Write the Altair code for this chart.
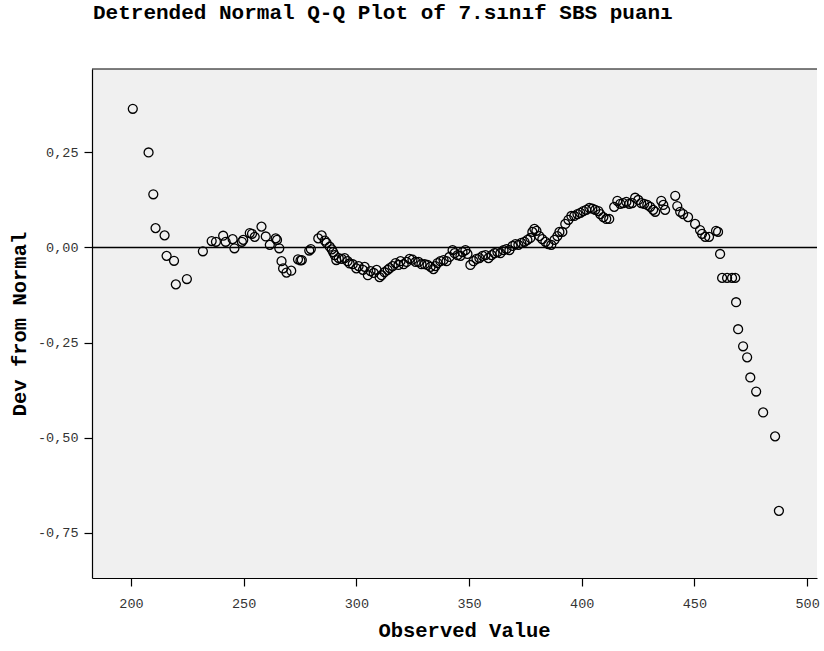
import altair as alt
import pandas as pd

observed = [
    200.8, 207.8, 209.9, 210.9, 214.9, 215.8, 219.1, 219.9, 224.8, 231.9,
    235.8, 237.7, 240.9, 242.0, 245.1, 245.9, 249.2, 249.8, 252.7, 253.7,
    254.9, 257.9, 259.8, 261.6, 264.2, 264.8, 265.8, 266.8, 267.5, 269.0,
    271.1, 274.1, 275.2, 275.8, 279.1, 279.8, 283.1, 284.6, 286.0, 286.8,
    288.2, 289.1, 289.7, 290.4, 291.1, 292.2, 293.5, 294.8, 296.1, 297.0,
    298.4, 300.0, 301.0, 302.9, 303.7, 305.1, 306.3, 307.7, 309.0, 310.3,
    311.2, 312.5, 313.9, 314.8, 316.1, 317.4, 318.7, 319.6, 321.0, 322.3,
    323.6, 324.9, 326.3, 327.6, 328.9, 330.3, 331.6, 332.9, 334.2, 335.1,
    336.0, 337.3, 338.7, 340.0, 341.3, 342.7, 343.6, 344.9, 346.2, 347.1,
    348.4, 349.3, 350.6, 352.0, 353.3, 354.6, 356.0, 357.3, 358.6, 360.0,
    361.3, 362.6, 363.9, 365.3, 366.6, 367.9, 369.3, 370.6, 371.9, 373.2,
    374.6, 375.9, 377.2, 378.1, 379.0, 379.9, 381.2, 382.5, 383.9, 385.2,
    386.5, 387.9, 389.2, 390.1, 391.4, 392.7, 394.1, 395.4, 396.7, 398.1,
    399.4, 400.7, 402.0, 403.4, 404.7, 406.0, 407.4, 408.2, 409.6, 410.9,
    412.2, 414.4, 415.8, 417.1, 418.4, 419.8, 421.1, 422.4, 423.7, 425.1,
    426.4, 427.7, 429.1, 430.4, 431.7, 432.6, 435.3, 436.2, 437.0, 441.5,
    442.4, 443.7, 445.0, 447.2, 450.3, 452.5, 453.4, 454.8, 456.5, 459.6,
    460.5, 461.4, 462.3, 464.5, 466.7, 468.1, 468.5, 469.4, 471.6, 473.4,
    474.8, 477.4, 480.5, 485.8, 487.5,
]

deviation = [
    0.365, 0.250, 0.140, 0.051, 0.032, -0.022, -0.035, -0.097, -0.083, -0.010,
    0.017, 0.015, 0.031, 0.015, 0.022, -0.002, 0.015, 0.020, 0.038, 0.036,
    0.028, 0.055, 0.029, 0.007, 0.024, 0.020, -0.002, -0.036, -0.055, -0.066,
    -0.061, -0.031, -0.034, -0.033, -0.008, -0.004, 0.024, 0.032, 0.018, 0.012,
    0.002, -0.005, -0.012, -0.020, -0.033, -0.028, -0.030, -0.028, -0.036, -0.042,
    -0.044, -0.055, -0.049, -0.059, -0.051, -0.073, -0.062, -0.067, -0.059, -0.078,
    -0.073, -0.065, -0.059, -0.054, -0.049, -0.041, -0.046, -0.036, -0.044, -0.038,
    -0.030, -0.032, -0.038, -0.038, -0.044, -0.044, -0.046, -0.051, -0.057, -0.049,
    -0.041, -0.036, -0.033, -0.036, -0.025, -0.007, -0.015, -0.020, -0.022, -0.012,
    -0.007, -0.017, -0.046, -0.036, -0.030, -0.028, -0.022, -0.020, -0.028, -0.020,
    -0.015, -0.012, -0.015, -0.007, -0.004, -0.007, 0.004, 0.009, 0.007, 0.012,
    0.015, 0.020, 0.025, 0.041, 0.049, 0.044, 0.030, 0.022, 0.015, 0.009,
    0.007, 0.020, 0.030, 0.041, 0.041, 0.062, 0.073, 0.083, 0.083, 0.088,
    0.091, 0.096, 0.099, 0.104, 0.102, 0.099, 0.096, 0.088, 0.080, 0.075,
    0.075, 0.107, 0.123, 0.115, 0.117, 0.120, 0.115, 0.117, 0.131, 0.125,
    0.117, 0.115, 0.112, 0.107, 0.099, 0.094, 0.123, 0.112, 0.099, 0.136,
    0.109, 0.094, 0.088, 0.080, 0.062, 0.046, 0.036, 0.028, 0.028, 0.044,
    0.041, -0.017, -0.080, -0.080, -0.080, -0.080, -0.144, -0.215, -0.260, -0.289,
    -0.342, -0.379, -0.434, -0.497, -0.693,
]

x_ticks = [200, 250, 300, 350, 400, 450, 500]
y_ticks = [0.25, 0.0, -0.25, -0.5, -0.75]
x_domain = [182.7, 504.4]
y_domain = [-0.8697, 0.4697]

assert len(observed) == len(deviation)
df = pd.DataFrame({"obs": observed, "dev": deviation})
zero_df = pd.DataFrame({"dev": [0.0]})

W, H = 725, 509
MONO = "Liberation Mono"

x_enc = alt.X(
    "obs:Q",
    scale=alt.Scale(domain=x_domain, nice=False, zero=False),
    axis=alt.Axis(
        values=x_ticks, title="Observed Value", grid=False,
        labelFont=MONO, labelFontSize=13.5, labelColor="#333333",
        tickSize=8, tickColor="black", tickWidth=1.2, labelPadding=10,
        domainColor="black", domainWidth=1.2,
        titleFont=MONO, titleFontSize=20.5, titleFontWeight="bold",
        titleColor="black", titlePadding=11, titleX=372,
    ),
)
y_enc = alt.Y(
    "dev:Q",
    scale=alt.Scale(domain=y_domain, nice=False, zero=False),
    axis=alt.Axis(
        values=y_ticks, title="Dev from Normal", grid=False,
        labelExpr="(datum.value < 0 ? '-' : '') + replace(format(abs(datum.value), '.2f'), '.', ',')",
        labelFont=MONO, labelFontSize=13.5, labelColor="#333333",
        tickSize=8, tickColor="black", tickWidth=1.2, labelPadding=6,
        domainColor="black", domainWidth=1.2,
        titleFont=MONO, titleFontSize=20.5, titleFontWeight="bold",
        titleColor="black", titlePadding=8,
    ),
)

points = alt.Chart(df).mark_point(
    shape="circle", filled=False, color="black", size=80,
    strokeWidth=1.3, opacity=1,
).encode(x=x_enc, y=y_enc)

zero_line = alt.Chart(zero_df).mark_rule(color="black", strokeWidth=1.5).encode(
    y=alt.Y("dev:Q")
)

top_border = alt.Chart(zero_df).mark_rule(color="black", strokeWidth=1.2).encode(
    x=alt.value(0), x2=alt.value(W), y=alt.value(0)
)

chart = (
    alt.layer(zero_line, points, top_border)
    .properties(
        width=W, height=H,
        title=alt.TitleParams(
            "Detrended Normal Q-Q Plot of 7.sınıf SBS puanı",
            font=MONO, fontSize=21, fontWeight="bold", color="black",
            anchor="start", frame="group", dx=1, offset=28,
            baseline="alphabetic",
        ),
        autosize=alt.AutoSizeParams(type="none"),
        padding={"left": 92, "top": 69, "right": 7, "bottom": 73},
        background="white",
    )
    .configure_view(fill="#F0F0F0", stroke=None)
)

chart.save("out.html", embed_options={"renderer": "svg", "actions": False})
